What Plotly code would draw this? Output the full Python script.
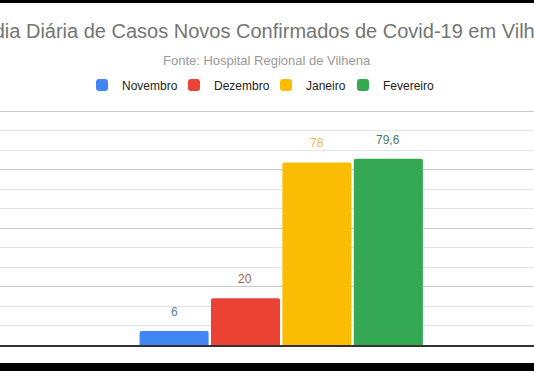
import plotly.graph_objects as go

# ---- data ----
category = ["Média Diária"]
series_names = ["Novembro", "Dezembro", "Janeiro", "Fevereiro"]
series_values = [6, 20, 78, 79.6]
series_colors = ["#4285F4", "#EA4335", "#FBBC04", "#34A853"]
label_colors = ["#5a7ca6", "#a8584d", "#e9bd52", "#52785f"]

title_text = "Média Diária de Casos Novos Confirmados de Covid-19 em Vilhena"
subtitle_text = "Fonte: Hospital Regional de Vilhena"

y_top_tick = 100
y_major = 25
y_minor = 25 / 3

# ---- layout params (figure sits 3px below the page top; the page
#      background supplies the thin black strip above it) ----
TOP_STRIP = 3
W, H = 534, 371 - TOP_STRIP
BASE_PX = 342                 # baseline, figure px from top
GRID_TOP_PX = 108             # px of the 100 gridline
M_T = GRID_TOP_PX - 4
M_B = H - BASE_PX
PLOT_H = BASE_PX - M_T
Y_MAX = y_top_tick * PLOT_H / (BASE_PX - GRID_TOP_PX)
BARGAP = 0.465
BARGROUPGAP = 0.033
X_RANGE = [-0.5266, 0.4734]
FONT = "Liberation Sans, Arial, sans-serif"
LEGEND_TEXT_X = [122, 214, 306, 383]   # px where each legend entry's text starts
LEGEND_Y_PX = 82
TITLE_Y_PX = 28
SUBTITLE_Y_PX = 57


def fmt(v):
    s = f"{v:g}"
    return s.replace(".", ",")


legend_ids = ["legend", "legend2", "legend3", "legend4"]

fig = go.Figure()
for name, val, col, lid in zip(series_names, series_values, series_colors, legend_ids):
    fig.add_trace(go.Bar(
        x=category, y=[val], name=name,
        marker=dict(color=col, line=dict(width=0)),
        hoverinfo="name+y", legend=lid,
    ))

# data labels above bars, aligned with grouped bar centres
n = len(series_names)
slot = (1 - BARGAP) / n
annotations = []
for i, (val, lc) in enumerate(zip(series_values, label_colors)):
    annotations.append(dict(
        x=(i - (n - 1) / 2) * slot, y=val, xref="x", yref="y",
        text=fmt(val), showarrow=False, yanchor="bottom", yshift=10,
        font=dict(family=FONT, size=12, color=lc),
    ))

# subtitle
annotations.append(dict(
    x=0.5, y=1 + (M_T - SUBTITLE_Y_PX) / PLOT_H, xref="paper", yref="paper",
    text=subtitle_text, showarrow=False, xanchor="center", yanchor="middle",
    font=dict(family=FONT, size=13, color="#9a9a9a"),
))

shapes = [
    # black strip at the bottom of the screenshot
    dict(type="rect", xref="paper", yref="paper", x0=0, x1=1,
         y0=-M_B / PLOT_H, y1=-(M_B - 8) / PLOT_H,
         fillcolor="black", line=dict(width=0), layer="above"),
]

legend_common = dict(
    orientation="h", xanchor="left", yanchor="middle",
    y=1 + (M_T - LEGEND_Y_PX) / PLOT_H,
    font=dict(family=FONT, size=12, color="#222222"),
    itemwidth=30, itemclick=False, bgcolor="rgba(0,0,0,0)", borderwidth=0,
)
legends = {}
for lid, tx in zip(legend_ids, LEGEND_TEXT_X):
    legends[lid] = dict(legend_common, x=(tx - 40) / W)

fig.update_layout(
    width=W, height=H, autosize=False,
    margin=dict(l=0, r=0, t=M_T, b=M_B, pad=0),
    paper_bgcolor="white", plot_bgcolor="white",
    font=dict(family=FONT, size=12, color="#222222"),
    title=dict(text=title_text, x=0.5, xanchor="center",
               y=1 - TITLE_Y_PX / H, yanchor="middle", yref="container",
               font=dict(family=FONT, size=20, color="#757575")),
    barmode="group", bargap=BARGAP, bargroupgap=BARGROUPGAP,
    barcornerradius=2,
    showlegend=True,
    annotations=annotations,
    shapes=shapes,
    xaxis=dict(type="category", range=X_RANGE, showticklabels=False,
               showgrid=False, zeroline=False, showline=True,
               linecolor="#333333", linewidth=1.5, ticks=""),
    yaxis=dict(range=[0, Y_MAX], dtick=y_major, tick0=0, showticklabels=False,
               showgrid=True, gridcolor="#c8c8c8", gridwidth=1,
               zeroline=False, ticks="",
               minor=dict(dtick=y_minor, tick0=0, showgrid=True,
                          gridcolor="#e3e3e3", gridwidth=1)),
    **legends,
)

fig.write_html(
    "out.html",
    config={"displayModeBar": False},
    post_script=(
        "document.body.style.margin='%dpx 0 0 0';"
        "document.body.style.background='black';"
        "document.body.style.overflow='hidden';" % TOP_STRIP
    ),
)
